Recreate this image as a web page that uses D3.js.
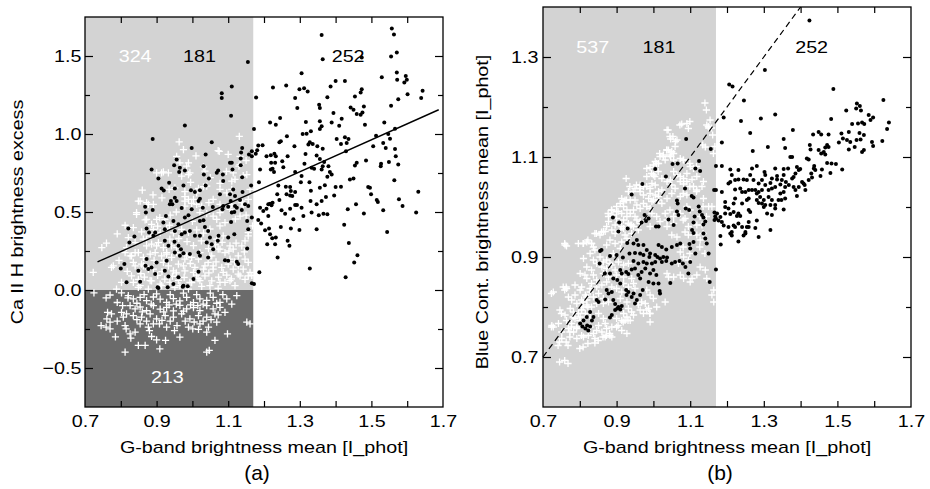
<!DOCTYPE html>
<html>
<head>
<meta charset="utf-8">
<script src="https://cdn.jsdelivr.net/npm/d3@7"></script>
<style>
  body { margin: 0; background: #fff; }
  svg text { font-family: "Liberation Sans", Arial, Helvetica, sans-serif; }
</style>
</head>
<body>
<div id="chart"></div>
<script>
// ---- data ----
const xTicksMajor = [0.7, 0.9, 1.1, 1.3, 1.5, 1.7];
const xTicksMinor = [0.8, 0.9, 1.0, 1.1, 1.2, 1.3, 1.4, 1.5, 1.6];
const aYMajor = [-0.5, 0.0, 0.5, 1.0, 1.5];
const aYMinor = [-0.25, 0.25, 0.75, 1.25];
const bYMajor = [0.7, 0.9, 1.1, 1.3];
const bYMinor = [0.8, 1.0, 1.2];
const gCut = 1.17;            // G-band threshold (shaded region)
const aCounts = ["324", "181", "252", "213"];
const bCounts = ["537", "181", "252"];
const aFit = { slope: 1.024, intercept: -0.573, from: 0.735, to: 1.688 };

// panel (a): black dots, G-band > 1.17
const aDotsBright = [
  [1.557,1.677],[1.563,1.638],[1.361,1.634],[1.571,1.523],[1.555,1.496],[1.364,1.479],[1.473,1.491],
  [1.571,1.394],[1.529,1.364],[1.572,1.347],[1.596,1.372],[1.599,1.347],[1.592,1.330],[1.426,1.340],
  [1.400,1.340],[1.305,1.389],[1.262,1.311],[1.225,1.298],[1.299,1.287],[1.312,1.294],[1.322,1.272],
  [1.386,1.304],[1.473,1.287],[1.470,1.266],[1.643,1.277],[1.639,1.230],[1.575,1.223],[1.601,1.255],
  [1.555,1.181],[1.178,1.234],[1.287,1.230],[1.377,1.236],[1.454,1.240],[1.354,1.187],[1.356,1.166],
  [1.293,1.166],[1.442,1.170],[1.450,1.155],[1.459,1.128],[1.470,1.123],[1.475,1.138],[1.479,1.177],
  [1.394,1.134],[1.417,1.098],[1.245,1.102],[1.217,1.074],[1.233,1.060],[1.317,1.077],[1.356,1.081],
  [1.361,1.049],[1.356,1.032],[1.389,1.074],[1.410,1.053],[1.482,1.060],[1.536,1.074],[1.566,1.034],
  [1.172,1.032],[1.264,0.985],[1.247,0.953],[1.243,0.947],[1.308,1.000],[1.319,1.002],[1.331,1.017],
  [1.328,0.947],[1.324,0.932],[1.336,0.936],[1.349,0.921],[1.364,0.906],[1.403,0.968],[1.415,0.936],
  [1.426,0.979],[1.436,0.968],[1.431,0.943],[1.429,0.889],[1.513,0.989],[1.533,0.943],[1.547,1.000],
  [1.552,0.970],[1.540,0.911],[1.566,0.904],[1.505,0.921],[1.568,0.857],[1.184,0.926],[1.196,0.928],
  [1.181,0.896],[1.177,0.874],[1.229,0.874],[1.219,0.864],[1.233,0.857],[1.285,0.921],[1.316,0.872],
  [1.266,0.857],[1.251,0.826],[1.220,0.815],[1.231,0.815],[1.219,0.772],[1.228,0.757],[1.224,0.777],
  [1.207,0.857],[1.313,0.809],[1.333,0.783],[1.340,0.777],[1.364,0.794],[1.368,0.821],[1.361,0.772],
  [1.380,0.794],[1.384,0.757],[1.389,0.740],[1.347,0.862],[1.356,0.840],[1.459,0.815],[1.454,0.798],
  [1.485,0.830],[1.527,0.809],[1.526,0.794],[1.549,0.821],[1.575,0.804],[1.440,0.709],[1.450,0.715],
  [1.491,0.660],[1.496,0.655],[1.189,0.772],[1.186,0.691],[1.254,0.787],[1.287,0.757],[1.305,0.730],
  [1.303,0.691],[1.261,0.662],[1.273,0.660],[1.275,0.634],[1.240,0.670],[1.327,0.691],[1.356,0.655],
  [1.377,0.726],[1.415,0.662],[1.564,0.704],[1.631,0.630],[1.189,0.528],[1.198,0.506],[1.207,0.521],
  [1.212,0.549],[1.217,0.553],[1.221,0.543],[1.224,0.560],[1.237,0.613],[1.243,0.577],[1.263,0.613],
  [1.273,0.606],[1.287,0.628],[1.279,0.602],[1.249,0.511],[1.259,0.489],[1.212,0.474],[1.273,0.521],
  [1.287,0.545],[1.292,0.545],[1.305,0.528],[1.310,0.474],[1.330,0.570],[1.333,0.496],[1.347,0.549],
  [1.361,0.570],[1.366,0.489],[1.373,0.596],[1.377,0.485],[1.353,0.479],[1.331,0.636],[1.370,0.672],
  [1.400,0.660],[1.396,0.606],[1.434,0.517],[1.457,0.549],[1.479,0.491],[1.499,0.613],[1.515,0.577],
  [1.518,0.564],[1.533,0.511],[1.577,0.581],[1.587,0.538],[1.625,0.496],[1.184,0.449],[1.192,0.426],
  [1.203,0.383],[1.214,0.394],[1.217,0.357],[1.223,0.332],[1.233,0.336],[1.209,0.294],[1.231,0.294],
  [1.247,0.404],[1.266,0.315],[1.271,0.283],[1.275,0.394],[1.282,0.453],[1.299,0.385],[1.347,0.389],
  [1.424,0.419],[1.437,0.302],[1.461,0.223],[1.452,0.177],[1.544,0.372],[1.238,0.209],[1.328,0.138],
  [1.428,0.081],[1.172,0.038],[1.187,0.113]
];

// panel (a): black dots, G-band < 1.17
const aDotsShaded = [
  [1.155,1.462],[1.082,1.262],[1.082,1.230],[1.110,1.305],[1.108,1.117],[0.979,1.055],[0.889,0.968],
  [1.054,0.947],[0.998,0.911],[1.139,0.911],[1.136,0.881],[1.037,0.868],[1.158,0.868],[1.166,0.889],
  [1.166,0.857],[0.956,0.836],[0.949,0.800],[0.965,0.783],[0.963,0.757],[0.979,0.766],[1.110,0.815],
  [1.112,0.772],[1.135,0.843],[1.135,0.800],[1.031,0.794],[1.032,0.740],[1.046,0.715],[1.068,0.751],
  [1.072,0.766],[1.085,0.740],[1.086,0.698],[0.886,0.772],[0.905,0.715],[1.139,0.723],[0.935,0.687],
  [0.975,0.670],[0.914,0.651],[0.920,0.638],[0.951,0.651],[0.996,0.640],[1.007,0.628],[1.021,0.640],
  [1.037,0.670],[1.077,0.613],[1.105,0.613],[1.140,0.628],[1.164,0.670],[0.940,0.570],[0.951,0.591],
  [0.956,0.570],[1.021,0.585],[1.017,0.570],[1.107,0.570],[1.133,0.577],[0.868,0.534],[0.937,0.549],
  [0.970,0.526],[1.057,0.532],[1.086,0.538],[1.100,0.534],[1.119,0.538],[0.870,0.496],[0.889,0.513],
  [0.944,0.549],[0.979,0.464],[0.989,0.479],[0.998,0.517],[1.029,0.528],[1.084,0.517],[1.110,0.496],
  [1.117,0.500],[1.138,0.513],[1.147,0.549],[1.166,0.464],[0.821,0.394],[0.838,0.343],[0.824,0.304],
  [0.872,0.394],[0.879,0.368],[0.896,0.368],[0.891,0.347],[0.919,0.432],[0.923,0.389],[0.926,0.474],
  [0.947,0.443],[0.961,0.421],[0.951,0.379],[0.970,0.357],[0.979,0.368],[0.993,0.379],[1.021,0.443],
  [1.031,0.447],[1.035,0.404],[1.007,0.347],[1.021,0.347],[1.044,0.379],[1.049,0.336],[1.040,0.304],
  [1.054,0.294],[1.073,0.347],[1.071,0.315],[1.100,0.336],[1.117,0.357],[1.108,0.436],[0.923,0.315],
  [0.933,0.283],[0.950,0.309],[0.961,0.283],[0.951,0.240],[0.968,0.262],[0.975,0.236],[0.965,0.219],
  [0.993,0.230],[1.017,0.240],[1.021,0.219],[1.058,0.262],[1.044,0.209],[1.091,0.191],[1.100,0.187],
  [1.128,0.166],[1.124,0.181],[1.153,0.266],[0.900,0.177],[0.928,0.187],[0.872,0.198],[0.869,0.155],
  [0.886,0.145],[0.877,0.134],[0.810,0.166],[0.800,0.138],[0.849,0.123],[0.896,0.102],[0.923,0.123],
  [0.933,0.087],[0.961,0.081],[1.003,0.070],[0.975,0.028],[0.816,0.049],[0.903,0.017],[1.017,0.117],
  [1.166,0.043],[0.854,0.053],[0.905,0.013],[0.931,0.017],[0.947,0.038],[0.973,0.021],[0.987,0.024],
  [1.114,0.645],[1.119,0.602],[1.124,0.528],[1.156,0.538],[1.153,0.443],[1.156,0.389],[1.105,0.815]
];

// panel (a): white crosses
const aCrosses = [
  [0.963,0.949],[1.131,0.985],[1.072,0.894],[0.956,0.857],[0.989,0.815],[0.984,0.794],[1.031,0.789],
  [1.035,0.762],[1.133,0.804],[0.900,0.751],[0.919,0.757],[0.970,0.730],[0.989,0.740],[1.110,0.698],
  [1.142,0.734],[1.152,0.740],[1.077,0.683],[0.935,0.645],[0.951,0.655],[0.979,0.630],[1.017,0.651],
  [1.031,0.662],[1.110,0.645],[1.161,0.645],[0.979,0.598],[0.989,0.581],[0.854,0.570],[0.877,0.549],
  [1.012,0.549],[1.026,0.538],[1.046,0.560],[1.077,0.549],[1.138,0.570],[1.156,0.581],[1.133,0.857],
  [1.130,0.794],[1.075,0.889],[0.965,0.815],[0.993,0.751],[0.933,0.751],[0.914,0.751],[0.844,0.496],
  [0.872,0.453],[0.747,0.272],[0.723,0.113],[0.779,0.155],[0.826,0.219],[0.816,0.272],[0.840,0.240],
  [1.156,0.347],[1.161,0.113],[1.133,0.474],[1.142,0.538],[1.147,0.198],[1.133,0.091],[1.156,0.091],
  [1.114,0.751],[1.119,0.709],[1.040,0.666],[1.058,0.581],[1.077,0.645],[1.096,0.623],[1.021,0.496],
  [1.058,0.474],[1.077,0.496],[1.105,0.517],[1.003,0.581],[0.979,0.538],[1.012,0.623],[0.774,0.145],
  [0.844,0.485],[0.868,0.449],[0.886,0.421],[0.900,0.453],[0.909,0.464],[0.923,0.453],[0.849,0.570],
  [0.872,0.560],[0.891,0.549],[0.979,0.570],[0.998,0.555],[1.110,0.549],[1.138,0.560],[0.821,0.336],
  [0.840,0.304],[0.863,0.326],[0.872,0.283],[0.886,0.294],[0.905,0.304],[0.919,0.272],[0.937,0.326],
  [0.942,0.283],[0.812,0.240],[0.830,0.219],[0.849,0.240],[0.863,0.209],[0.882,0.230],[0.896,0.240],
  [0.914,0.219],[0.928,0.230],[0.942,0.209],[0.956,0.240],[0.979,0.198],[0.998,0.209],[1.017,0.198],
  [1.044,0.177],[1.054,0.219],[1.072,0.262],[1.091,0.240],[1.114,0.262],[1.128,0.219],[1.138,0.283],
  [1.147,0.315],[1.156,0.368],[1.168,0.411],[1.091,0.432],[1.068,0.453],[1.077,0.411],[0.830,0.091],
  [0.849,0.068],[0.866,0.083],[0.886,0.058],[0.903,0.094],[0.923,0.070],[0.944,0.088],[0.961,0.062],
  [0.977,0.081],[0.998,0.047],[1.016,0.072],[1.035,0.090],[1.054,0.058],[1.073,0.083],[1.091,0.049],
  [1.109,0.071],[1.128,0.102],[1.147,0.068],[1.166,0.093],[0.849,0.017],[0.877,0.006],[0.914,0.028],
  [0.951,0.017],[0.989,0.006],[1.026,0.023],[1.072,0.011],[1.119,0.028],[0.802,0.049],[0.788,0.006],
  [0.840,0.155],[0.858,0.166],[0.877,0.134],[0.933,0.155],[0.961,0.166],[0.979,0.123],[1.007,0.145],
  [1.035,0.155],[1.058,0.134],[1.082,0.145],[1.100,0.166],[1.128,0.155],[1.142,0.134],[1.156,0.177],
  [0.891,0.389],[0.910,0.368],[0.928,0.392],[0.947,0.366],[0.970,0.389],[0.989,0.370],[1.012,0.386],
  [1.031,0.365],[1.049,0.391],[1.068,0.326],[1.086,0.347],[1.105,0.283],[0.872,0.326],[0.900,0.283],
  [0.928,0.240],[0.956,0.272],[0.984,0.219],[1.021,0.240],[1.049,0.219],[1.077,0.262],[1.105,0.198],
  [0.835,0.177],[0.863,0.155],[0.891,0.134],[0.919,0.177],[0.947,0.123],[0.975,0.155],[1.003,0.113],
  [1.031,0.134],[1.058,0.155],[1.086,0.113],[1.114,0.134],[0.835,0.049],[0.854,0.028],[0.882,0.060],
  [0.910,0.038],[0.937,0.049],[0.965,0.028],[0.993,0.049],[1.021,0.060],[1.049,0.028],[1.077,0.049],
  [1.105,0.060],[0.812,0.415],[0.835,0.400],[0.858,0.372],[0.884,0.345],[0.903,0.410],[0.936,0.415],
  [0.962,0.330],[0.985,0.310],[1.003,0.285],[1.025,0.315],[1.045,0.265],[1.064,0.290],[1.083,0.305],
  [1.102,0.250],[1.122,0.300],[1.145,0.245],[0.795,0.190],[0.818,0.120],[0.856,0.105],[0.893,0.190],
  [0.915,0.118],[0.955,0.110],[0.994,0.170],[1.012,0.095],[1.046,0.110],[1.066,0.180],[1.096,0.095],
  [1.118,0.180],[0.760,0.300],[0.790,0.360],[0.955,0.500],[0.938,0.480],[1.000,0.440],[1.040,0.490],
  [1.120,0.455],[1.150,0.480],[0.860,0.640],[0.890,0.610],[0.915,0.590],[0.995,0.690],[1.050,0.720],
  [1.095,0.760],[1.010,0.860],[1.100,0.870],[0.975,0.900],[1.150,0.830],
  [0.725,-0.019],[0.759,-0.051],[0.770,-0.032],[0.802,-0.019],[0.821,-0.036],[0.835,-0.057],
  [0.854,-0.047],[0.872,-0.068],[0.891,-0.045],[0.910,-0.059],[0.928,-0.079],[0.947,-0.055],
  [0.965,-0.070],[0.984,-0.047],[1.003,-0.081],[1.021,-0.057],[1.040,-0.066],[1.058,-0.047],
  [1.077,-0.079],[1.096,-0.057],[0.826,-0.100],[0.840,-0.121],[0.854,-0.109],[0.872,-0.132],
  [0.891,-0.100],[0.910,-0.123],[0.928,-0.111],[0.947,-0.134],[0.965,-0.098],[0.984,-0.121],
  [1.003,-0.113],[1.021,-0.132],[1.040,-0.100],[1.058,-0.121],[1.077,-0.111],[1.091,-0.143],
  [0.816,-0.153],[0.835,-0.164],[0.858,-0.174],[0.882,-0.153],[0.900,-0.185],[0.924,-0.164],
  [0.947,-0.174],[0.970,-0.153],[0.993,-0.185],[1.017,-0.164],[1.040,-0.174],[1.063,-0.153],
  [0.763,-0.143],[0.774,-0.153],[0.761,-0.185],[0.770,-0.206],[0.745,-0.228],[0.759,-0.238],
  [0.770,-0.249],[0.815,-0.249],[0.826,-0.281],[0.828,-0.309],[0.849,-0.355],[0.868,-0.355],
  [0.812,-0.398],[0.886,-0.298],[0.908,-0.217],[0.928,-0.238],[0.909,-0.377],[0.925,-0.323],
  [0.965,-0.302],[0.989,-0.238],[1.001,-0.249],[1.017,-0.253],[1.040,-0.398],[1.047,-0.387],
  [1.063,-0.323],[1.098,-0.281],[1.152,-0.206],[1.161,-0.217],[1.124,-0.036],[0.854,-0.217],
  [0.877,-0.238],[0.891,-0.217],[0.957,-0.228],[1.021,-0.217],[1.045,-0.238],[1.068,-0.206],
  [0.802,-0.143],[0.807,-0.174],[0.812,-0.228],[0.790,-0.080],[0.805,-0.100],[0.845,-0.085],
  [0.865,-0.030],[0.885,-0.090],[0.900,-0.025],[0.920,-0.140],[0.938,-0.030],[0.955,-0.090],
  [0.975,-0.020],[0.995,-0.095],[1.012,-0.030],[1.030,-0.090],[1.050,-0.020],[1.068,-0.085],
  [1.085,-0.030],[1.110,-0.090],[0.845,-0.190],[0.872,-0.200],[0.915,-0.195],[0.938,-0.200],
  [0.980,-0.200],[1.005,-0.205],[1.030,-0.200],[1.052,-0.190],[0.790,-0.200],[0.820,-0.050],
  [0.860,-0.140],[0.935,-0.095],[0.975,-0.135],[1.015,-0.100],[1.072,-0.160],[0.880,-0.260],
  [0.840,-0.270],[0.950,-0.260],[1.040,-0.270],[0.785,-0.300],[0.900,-0.320]
];

// panel (b): black dots, G-band > 1.17
const bDotsBright = [
  [1.424,1.373],[1.303,1.274],[1.206,1.245],[1.215,1.241],[1.489,1.236],[1.246,1.213],[1.625,1.214],
  [1.191,1.179],[1.238,1.172],[1.292,1.177],[1.331,1.185],[1.483,1.176],[1.379,1.154],[1.263,1.148],
  [1.186,1.129],[1.354,1.136],[1.311,1.120],[1.270,1.112],[1.358,1.118],[1.524,1.193],[1.553,1.207],
  [1.561,1.202],[1.564,1.193],[1.551,1.197],[1.585,1.184],[1.597,1.179],[1.590,1.174],[1.540,1.166],
  [1.556,1.167],[1.567,1.169],[1.573,1.166],[1.640,1.169],[1.635,1.156],[1.622,1.132],[1.511,1.147],
  [1.531,1.150],[1.560,1.148],[1.572,1.144],[1.515,1.137],[1.526,1.134],[1.535,1.130],[1.552,1.134],
  [1.563,1.135],[1.504,1.129],[1.531,1.115],[1.547,1.120],[1.567,1.110],[1.572,1.114],[1.594,1.130],
  [1.597,1.122],[1.434,1.145],[1.449,1.150],[1.456,1.145],[1.476,1.145],[1.425,1.124],[1.427,1.115],
  [1.449,1.114],[1.456,1.107],[1.463,1.110],[1.467,1.119],[1.472,1.124],[1.476,1.120],[1.467,1.105],
  [1.417,1.097],[1.422,1.095],[1.437,1.082],[1.436,1.077],[1.440,1.074],[1.458,1.075],[1.472,1.088],
  [1.484,1.087],[1.496,1.086],[1.513,1.075],[1.481,1.068],[1.454,1.062],[1.429,1.067],[1.431,1.059],
  [1.422,1.054],[1.411,1.044],[1.413,1.034],[1.390,1.022],[1.372,1.100],[1.377,1.100],[1.390,1.080],
  [1.395,1.074],[1.399,1.076],[1.386,1.067],[1.381,1.060],[1.377,1.057],[1.404,1.050],[1.408,1.047],
  [1.395,1.040],[1.381,1.040],[1.386,1.034],[1.368,1.044],[1.360,1.050],[1.354,1.076],[1.366,1.077],
  [1.354,1.064],[1.349,1.054],[1.345,1.045],[1.358,1.040],[1.354,1.030],[1.345,1.027],[1.331,1.077],
  [1.336,1.062],[1.336,1.055],[1.322,1.057],[1.318,1.048],[1.331,1.040],[1.322,1.037],[1.340,1.014],
  [1.358,1.017],[1.348,1.014],[1.354,0.995],[1.302,1.070],[1.304,1.064],[1.295,1.054],[1.286,1.047],
  [1.304,1.044],[1.313,1.034],[1.295,1.034],[1.286,1.030],[1.300,1.014],[1.313,1.020],[1.318,1.004],
  [1.322,1.014],[1.300,1.000],[1.309,0.987],[1.322,0.984],[1.331,1.004],[1.331,0.997],[1.281,1.082],
  [1.268,1.077],[1.263,1.064],[1.272,1.054],[1.254,1.054],[1.245,1.055],[1.231,1.055],[1.222,1.054],
  [1.213,1.064],[1.209,1.050],[1.204,1.047],[1.231,1.074],[1.209,1.075],[1.186,1.082],[1.170,1.082],
  [1.236,1.037],[1.222,1.035],[1.241,1.030],[1.250,1.030],[1.259,1.034],[1.268,1.034],[1.277,1.034],
  [1.281,1.027],[1.290,1.020],[1.259,1.017],[1.254,1.014],[1.281,1.014],[1.286,1.008],[1.295,1.007],
  [1.304,1.004],[1.241,1.007],[1.222,1.017],[1.218,1.007],[1.195,1.010],[1.186,1.030],[1.170,1.034],
  [1.195,1.000],[1.204,0.997],[1.195,0.987],[1.209,0.986],[1.218,0.990],[1.231,0.987],[1.227,0.982],
  [1.236,0.982],[1.259,0.994],[1.263,0.990],[1.281,0.973],[1.259,0.970],[1.173,0.987],[1.170,0.977],
  [1.177,0.973],[1.182,0.980],[1.191,0.963],[1.186,0.970],[1.204,0.960],[1.213,0.950],[1.218,0.963],
  [1.222,0.960],[1.231,0.967],[1.241,0.960],[1.250,0.950],[1.254,0.960],[1.259,0.960],[1.182,0.942],
  [1.183,0.925],[1.213,0.943],[1.209,0.947],[1.231,0.931],[1.250,0.947],[1.245,0.943],[1.277,0.958],
  [1.286,0.940],[1.318,0.954],[1.170,0.875]
];

// panel (b): black dots, G-band < 1.17
const bDotsShaded = [
  [1.089,1.136],[1.156,1.116],[1.052,1.086],[1.066,1.087],[1.124,1.092],[1.127,1.072],[1.114,1.077],
  [1.005,1.076],[1.034,1.061],[1.165,1.034],[1.086,1.037],[0.970,1.046],[0.941,1.025],[1.104,1.022],
  [1.109,1.019],[1.064,1.013],[1.066,1.007],[1.088,0.997],[1.097,0.994],[1.123,1.001],[1.126,0.991],
  [1.132,0.984],[1.136,0.979],[1.141,0.971],[1.064,0.991],[1.068,0.984],[1.112,0.981],[0.890,0.979],
  [1.041,0.975],[0.976,0.984],[0.987,0.977],[1.007,0.961],[1.014,0.961],[0.968,0.969],[0.907,0.969],
  [0.930,0.957],[0.980,0.972],[1.055,0.964],[1.109,0.969],[1.136,0.965],[1.105,0.954],[1.109,0.948],
  [0.905,0.951],[0.955,0.934],[0.946,0.927],[0.959,0.924],[0.973,0.924],[0.929,0.928],[0.855,0.912],
  [0.882,0.902],[0.900,0.904],[0.917,0.899],[0.935,0.907],[0.950,0.908],[0.964,0.907],[0.973,0.904],
  [0.982,0.914],[0.991,0.907],[0.989,0.900],[1.005,0.904],[1.011,0.900],[1.018,0.897],[1.027,0.900],
  [1.037,0.899],[1.014,0.924],[1.023,0.920],[1.035,0.915],[1.050,0.920],[1.064,0.924],[1.073,0.927],
  [1.098,0.926],[1.109,0.930],[1.100,0.917],[1.114,0.907],[1.136,0.947],[1.141,0.937],[1.145,0.927],
  [1.150,0.907],[0.946,0.892],[0.959,0.887],[0.973,0.890],[0.982,0.887],[0.996,0.887],[1.005,0.890],
  [1.023,0.890],[1.035,0.892],[1.050,0.887],[1.059,0.890],[1.071,0.892],[1.080,0.887],[1.087,0.880],
  [1.100,0.890],[0.910,0.874],[0.914,0.867],[0.926,0.870],[0.932,0.866],[0.941,0.875],[0.950,0.877],
  [0.959,0.864],[0.968,0.870],[0.978,0.877],[0.991,0.867],[1.000,0.874],[1.008,0.864],[0.882,0.867],
  [0.891,0.857],[1.095,0.867],[1.153,0.850],[0.964,0.857],[0.987,0.850],[1.000,0.847],[1.014,0.847],
  [1.017,0.832],[1.018,0.827],[1.046,0.848],[0.873,0.834],[0.878,0.827],[0.887,0.830],[0.926,0.834],
  [0.932,0.830],[0.927,0.824],[0.941,0.820],[0.946,0.827],[0.955,0.814],[0.950,0.807],[0.964,0.824],
  [0.971,0.834],[0.902,0.854],[0.910,0.847],[0.846,0.814],[0.851,0.810],[0.869,0.815],[0.891,0.814],
  [0.896,0.806],[0.905,0.800],[0.896,0.794],[0.902,0.797],[0.914,0.802],[0.910,0.795],[0.887,0.784],
  [0.882,0.779],[0.828,0.790],[0.819,0.780],[0.837,0.780],[0.810,0.773],[0.833,0.773],[0.801,0.767],
  [0.807,0.761],[0.820,0.763],[0.815,0.757],[0.828,0.761],[0.823,0.753],[1.166,0.989],[1.168,0.981],
  [1.166,0.974],[0.859,0.914],[0.854,0.887],[0.868,0.867]
];

// panel (b): white crosses
const bCrosses = [
  [1.077,1.166],[1.091,1.167],[1.095,1.157],[1.145,1.164],[1.150,1.158],[1.037,1.154],[1.047,1.136],
  [1.053,1.141],[1.064,1.134],[1.060,1.131],[1.134,1.124],[1.141,1.120],[1.041,1.114],[1.050,1.111],
  [1.055,1.107],[1.047,1.101],[1.055,1.094],[1.027,1.104],[1.032,1.094],[1.005,1.091],[1.009,1.087],
  [1.000,1.084],[0.982,1.077],[0.991,1.079],[1.073,1.097],[1.082,1.094],[1.100,1.081],[1.109,1.077],
  [1.064,1.064],[1.073,1.061],[1.082,1.057],[1.073,1.051],[1.082,1.046],[1.091,1.051],[1.105,1.055],
  [1.046,1.054],[1.050,1.044],[1.059,1.037],[1.136,1.051],[1.118,1.034],[1.109,1.041],[0.926,1.057],
  [0.964,1.044],[0.973,1.041],[0.982,1.041],[0.996,1.047],[1.005,1.044],[0.964,1.031],[0.973,1.024],
  [0.991,1.027],[1.005,1.024],[1.014,1.031],[1.023,1.034],[0.987,1.017],[0.996,1.011],[1.000,1.014],
  [1.014,1.014],[1.023,1.007],[0.973,1.007],[0.982,1.001],[0.991,0.997],[0.932,1.031],[0.937,1.014],
  [0.950,1.014],[0.955,1.004],[0.964,0.997],[0.914,1.017],[0.923,1.014],[0.910,1.007],[0.900,1.001],
  [0.887,0.994],[0.900,0.991],[0.914,0.987],[0.928,0.994],[0.937,0.987],[0.946,0.994],[0.878,0.981],
  [0.900,0.977],[0.919,0.974],[0.932,0.967],[0.955,0.974],[0.964,0.967],[1.032,0.987],[1.037,0.974],
  [1.055,0.967],[1.159,1.001],[1.091,1.001],[1.100,0.994],[1.073,0.987],[0.760,0.924],[0.764,0.922],
  [0.810,0.927],[0.819,0.930],[0.832,0.927],[0.873,0.961],[0.887,0.954],[0.896,0.947],[0.910,0.954],
  [0.919,0.957],[0.932,0.967],[0.946,0.961],[0.959,0.954],[0.855,0.944],[0.869,0.951],[0.882,0.934],
  [0.896,0.927],[0.914,0.930],[0.928,0.937],[0.828,0.907],[0.841,0.914],[0.855,0.900],[0.873,0.894],
  [0.891,0.907],[0.905,0.890],[0.819,0.880],[0.832,0.874],[0.846,0.887],[0.860,0.880],[0.873,0.877],
  [0.887,0.884],[0.896,0.874],[0.819,0.857],[0.832,0.847],[0.846,0.854],[0.860,0.844],[0.873,0.850],
  [0.887,0.840],[0.919,0.847],[0.932,0.840],[0.946,0.847],[0.801,0.834],[0.815,0.824],[0.828,0.830],
  [0.837,0.820],[0.851,0.827],[0.864,0.817],[0.778,0.814],[0.792,0.807],[0.805,0.814],[0.819,0.804],
  [0.832,0.800],[0.846,0.807],[0.774,0.797],[0.783,0.790],[0.796,0.787],[0.805,0.794],[0.787,0.777],
  [0.801,0.780],[0.755,0.840],[0.764,0.837],[0.728,0.830],[0.764,0.773],[0.778,0.767],[0.792,0.760],
  [0.728,0.760],[0.724,0.763],[0.769,0.757],[0.783,0.750],[0.805,0.743],[0.810,0.740],[0.823,0.743],
  [0.837,0.747],[0.846,0.753],[0.860,0.750],[0.873,0.757],[0.887,0.760],[0.882,0.743],[0.887,0.740],
  [0.900,0.777],[0.914,0.773],[0.928,0.780],[0.937,0.773],[0.946,0.784],[0.932,0.797],[0.941,0.790],
  [0.964,0.794],[0.973,0.787],[0.982,0.794],[0.991,0.787],[1.009,0.800],[1.032,0.810],[0.968,0.810],
  [0.978,0.807],[0.987,0.797],[0.991,0.824],[1.000,0.817],[1.118,0.944],[1.127,0.934],[1.132,0.964],
  [1.086,0.950],[1.095,0.944],[1.050,0.944],[1.064,0.940],[1.073,0.910],[1.082,0.900],[1.095,0.894],
  [1.068,0.887],[1.037,0.867],[1.041,0.860],[1.055,0.860],[1.073,0.864],[1.082,0.857],[1.100,0.850],
  [1.105,0.857],[1.127,0.880],[1.141,0.874],[1.118,0.864],[1.145,0.857],[1.164,0.834],[1.159,0.824],
  [1.164,0.810],[0.723,0.760],[0.750,0.787],[0.723,0.827],[0.763,0.840],[0.759,0.834],[0.763,0.730],
  [0.768,0.723],[0.745,0.730],[0.741,0.723],[0.745,0.690],[0.759,0.693],[0.768,0.687],[0.800,0.717],
  [0.809,0.720],[0.822,0.727],[0.841,0.737],[0.850,0.733],[0.863,0.740],[0.872,0.743],[0.881,0.747],
  [0.904,0.763],[0.918,0.770],[0.931,0.773],[0.990,0.787],[0.809,0.810],[0.822,0.800],[0.809,0.800],
  [0.818,0.820],[0.777,0.760],[0.791,0.757],[0.773,0.750],[0.782,0.780],[0.800,0.773],[0.759,0.927],
  [0.809,0.927],[0.822,0.934],[0.832,0.927],[0.845,0.947],[0.859,0.950],[0.877,0.987],[0.886,0.994],
  [0.890,0.984],[0.904,0.991],[0.918,1.011],[0.927,1.014],[0.936,1.041],[0.945,1.031],[0.954,1.044],
  [0.963,1.037],[0.995,1.067],[1.004,1.061],[1.013,1.071],[1.017,1.107],[1.027,1.101],[1.036,1.114],
  [1.045,1.104],[1.049,1.110],[1.040,1.154],[1.045,1.141],[1.072,1.164],[1.099,1.171],[1.140,1.208],
  [1.144,1.194],[1.154,1.174],[1.149,1.161],[1.158,1.158],[1.161,1.144],[1.167,1.121],[1.163,1.107],
  [1.081,1.094],[1.099,1.087],[1.117,1.081],[1.081,1.027],[1.099,1.041],[1.117,1.031],[1.045,0.994],
  [1.063,0.987],[1.081,0.974],[1.135,1.001],[1.144,0.981],[1.135,0.947],[1.126,0.920],[1.140,0.907],
  [1.081,0.920],[1.099,0.907],
  [0.878,0.971],[0.937,0.964],[0.964,0.971],[0.841,0.947],[0.864,0.951],[0.923,0.944],[0.941,0.947],
  [0.796,0.927],[0.873,0.924],[0.910,0.917],[0.837,0.920],[0.810,0.897],[0.837,0.894],[0.864,0.890],
  [0.882,0.887],[0.919,0.884],[0.932,0.887],[0.801,0.867],[0.814,0.864],[0.837,0.864],[0.864,0.867],
  [0.878,0.860],[0.900,0.864],[0.919,0.860],[0.941,0.857],[0.787,0.844],[0.805,0.840],[0.828,0.837],
  [0.846,0.840],[0.900,0.837],[0.914,0.830],[0.950,0.837],[0.982,0.834],[0.769,0.820],[0.787,0.824],
  [0.819,0.814],[0.864,0.807],[0.878,0.810],[0.910,0.817],[0.928,0.810],[0.959,0.804],[0.746,0.794],
  [0.760,0.784],[0.815,0.787],[0.828,0.780],[0.851,0.787],[0.864,0.777],[0.919,0.787],[0.923,0.773],
  [0.742,0.767],[0.751,0.750],[0.828,0.760],[0.851,0.763],[0.869,0.767],[0.900,0.760],[0.914,0.753],
  [0.928,0.747],[0.991,0.770],[0.751,0.737],[0.773,0.740],[0.792,0.737],[0.841,0.728],[0.869,0.740],
  [1.018,1.101],[1.037,1.114],[1.059,1.121],[1.014,1.087],[0.982,1.061],[1.000,1.064],[1.023,1.057],
  [1.037,1.051],[1.055,1.071],[1.091,1.067],[1.118,1.061],[1.132,1.041],[0.950,1.037],[0.991,1.037],
  [1.014,1.021],[1.037,1.017],[1.050,1.027],[1.073,1.021],[1.091,1.024],[1.136,1.017],[0.919,1.001],
  [0.928,0.981],[0.950,0.981],[0.996,0.987],[1.009,0.981],[1.018,0.971],[1.055,0.981],[1.086,0.977],
  [1.127,0.981],[1.150,1.001],[0.896,0.964],[0.914,0.961],[0.941,0.964],[0.991,0.961],[1.037,0.961],
  [1.095,0.961],[1.118,0.964]
];

// ---- drawing ----
const W = 930, H = 489;
const FONT = 17, SX = 1.16;   // Helvetica in the source is drawn a bit wide

const svg = d3.select('#chart').append('svg')
  .attr('width', W)
  .attr('height', H);

// text with the horizontal stretch
function label(g, x, y, str, opts = {}) {
  const rot = opts.rotate ? ` rotate(${opts.rotate})` : '';
  return g.append('text')
    .attr('transform', `translate(${x},${y})${rot} scale(${SX},1)`)
    .attr('text-anchor', opts.anchor || 'middle')
    .attr('font-size', opts.size || FONT)
    .attr('fill', opts.fill || '#000')
    .text(str);
}

function crossPath(s) {
  return `M${-s},0H${s}M0,${-s}V${s}`;
}

function panel(cfg) {
  const { left, right, top, bottom, yDomain, yMajor, yMinor, yPad } = cfg;
  const x = d3.scaleLinear().domain([0.7, 1.7]).range([left, right]);
  const y = d3.scaleLinear().domain(yDomain).range([bottom, top]);
  const g = svg.append('g');

  // shaded regions
  g.append('rect')
    .attr('x', x(0.7)).attr('y', y(yDomain[1]))
    .attr('width', x(gCut) - x(0.7))
    .attr('height', y(cfg.shadeFloor) - y(yDomain[1]))
    .attr('fill', '#d3d3d3');
  if (cfg.darkTop != null) {
    g.append('rect')
      .attr('x', x(0.7)).attr('y', y(cfg.darkTop))
      .attr('width', x(gCut) - x(0.7))
      .attr('height', y(yDomain[0]) - y(cfg.darkTop))
      .attr('fill', '#6b6b6b');
  }

  // white crosses
  g.append('g').selectAll('path')
    .data(cfg.crosses)
    .join('path')
    .attr('transform', d => `translate(${x(d[0])},${y(d[1])})`)
    .attr('d', crossPath(3.6))
    .attr('stroke', '#fff')
    .attr('stroke-width', 1.3)
    .attr('fill', 'none');

  // black dots
  g.append('g').selectAll('circle')
    .data(cfg.dots)
    .join('circle')
    .attr('cx', d => x(d[0]))
    .attr('cy', d => y(d[1]))
    .attr('r', 2)
    .attr('fill', '#000');

  if (cfg.extra) cfg.extra(g, x, y);

  // axes: ticks inside the box on all four sides
  const noLabel = () => '';
  g.append('g').attr('transform', `translate(0,${bottom})`)
    .call(d3.axisBottom(x).tickValues(xTicksMinor).tickSize(-6).tickFormat(noLabel));
  g.append('g').attr('transform', `translate(0,${top})`)
    .call(d3.axisTop(x).tickValues(xTicksMinor).tickSize(-6).tickFormat(noLabel));

  const xLab = g.append('g').attr('transform', `translate(0,${bottom})`)
    .call(d3.axisBottom(x).tickValues(xTicksMajor).tickSize(0).tickPadding(8)
      .tickFormat(d3.format('.1f')));

  const yLab = g.append('g').attr('transform', `translate(${left},0)`)
    .call(d3.axisLeft(y).tickValues(yMajor).tickSize(-8).tickPadding(yPad)
      .tickFormat(d3.format('.1f')));
  g.append('g').attr('transform', `translate(${left},0)`)
    .call(d3.axisLeft(y).tickValues(yMinor).tickSize(-5).tickFormat(noLabel));
  g.append('g').attr('transform', `translate(${right},0)`)
    .call(d3.axisRight(y).tickValues(yMajor).tickSize(-8).tickFormat(noLabel));
  g.append('g').attr('transform', `translate(${right},0)`)
    .call(d3.axisRight(y).tickValues(yMinor).tickSize(-5).tickFormat(noLabel));

  g.selectAll('.domain').remove();
  g.selectAll('.tick line').attr('stroke', '#000').attr('stroke-width', 1.2);
  [xLab, yLab].forEach(a => a.selectAll('text')
    .attr('font-size', FONT)
    .attr('fill', '#000')
    .attr('font-family', '"Liberation Sans", Arial, sans-serif')
    .attr('transform', `scale(${SX},1)`));

  // frame
  g.append('rect')
    .attr('x', left).attr('y', top)
    .attr('width', right - left).attr('height', bottom - top)
    .attr('fill', 'none')
    .attr('stroke', '#000')
    .attr('stroke-width', 1.3);

  // axis titles
  label(g, (left + right) / 2, 453, 'G-band brightness mean [I_phot]');
  label(g, cfg.yTitleX, cfg.yTitleY, cfg.yTitle, { rotate: -90 });

  // panel caption
  g.append('text')
    .attr('x', (left + right) / 2 - 7)
    .attr('y', 480)
    .attr('text-anchor', 'middle')
    .attr('font-family', '"DejaVu Serif", "Liberation Serif", serif')
    .attr('font-size', 21)
    .text(cfg.caption);

  return { g, x, y };
}

// (a)
panel({
  left: 85, right: 443, top: 17, bottom: 407,
  yDomain: [-0.75, 1.75], yMajor: aYMajor, yMinor: aYMinor, yPad: 3,
  shadeFloor: 0.0, darkTop: 0.0,
  dots: aDotsShaded.concat(aDotsBright),
  crosses: aCrosses,
  yTitle: 'Ca II H  brightness excess', yTitleX: 23, yTitleY: 212,
  caption: '(a)',
  extra: (g, x, y) => {
    g.append('line')
      .attr('x1', x(aFit.from)).attr('y1', y(aFit.slope * aFit.from + aFit.intercept))
      .attr('x2', x(aFit.to)).attr('y2', y(aFit.slope * aFit.to + aFit.intercept))
      .attr('stroke', '#000').attr('stroke-width', 1.4);
    label(g, x(0.84), y(1.5) + 6, aCounts[0], { fill: '#fff' });
    label(g, x(1.02), y(1.5) + 6, aCounts[1]);
    label(g, x(1.435), y(1.5) + 6, aCounts[2]);
    label(g, x(0.93), y(-0.56) + 6, aCounts[3], { fill: '#fff' });
  }
});

// (b)
panel({
  left: 543, right: 911, top: 7, bottom: 407,
  yDomain: [0.6, 1.4], yMajor: bYMajor, yMinor: bYMinor, yPad: 4,
  shadeFloor: 0.6, darkTop: null,
  dots: bDotsShaded.concat(bDotsBright),
  crosses: bCrosses,
  yTitle: 'Blue Cont. brightness mean [I_phot]', yTitleX: 488, yTitleY: 212,
  caption: '(b)',
  extra: (g, x, y) => {
    // one-to-one line
    g.append('line')
      .attr('x1', x(0.7)).attr('y1', y(0.7))
      .attr('x2', x(1.4)).attr('y2', y(1.4))
      .attr('stroke', '#000').attr('stroke-width', 1.2)
      .attr('stroke-dasharray', '6,4');
    label(g, x(0.835), y(1.32) + 6, bCounts[0], { fill: '#fff' });
    label(g, x(1.015), y(1.32) + 6, bCounts[1]);
    label(g, x(1.43), y(1.32) + 6, bCounts[2]);
  }
});
</script>
</body>
</html>
